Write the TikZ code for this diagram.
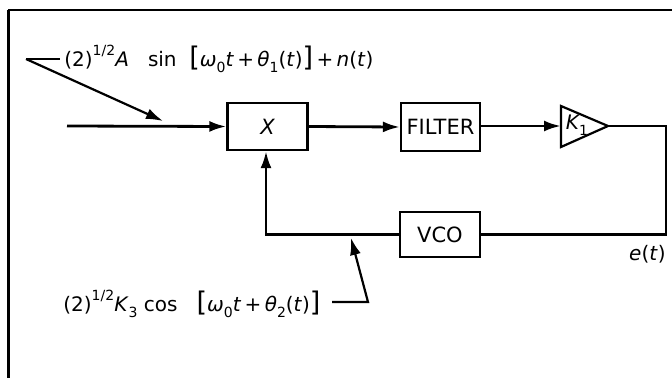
\documentclass[tikz,border=0pt]{standalone}
\usepackage{fontspec}
\setmainfont{DejaVu Sans}
\usetikzlibrary{arrows.meta}
\newcommand{\bigbr}[1]{{\fontsize{27}{27}\selectfont #1}}
\newcommand{\sps}[1]{\raisebox{0.55em}{\fontsize{14}{14}\selectfont #1}}
\newcommand{\sbs}[1]{\raisebox{-0.3em}{\fontsize{14}{14}\selectfont #1}}
\begin{document}
\begin{tikzpicture}[x=1pt,y=-1pt,line width=2.8pt,
  blk/.style={draw,line width=2.3pt,minimum width=80pt,minimum height=47pt,inner sep=0pt,font=\fontsize{21}{23}\selectfont},
  arr/.style={-{Latex[length=17pt,width=11pt]}},
  lbl/.style={font=\fontsize{20}{22}\selectfont,inner sep=0pt},
  thin/.style={line width=2.2pt}]
\useasboundingbox (0,0) rectangle (672,378);
% frame
\coordinate (ftr) at (672,10);
\coordinate (ftl) at (8,10);
\coordinate (fbl) at (8,378);
\draw[line width=1.8pt] (ftr) -- (ftl);
\draw[line width=3pt] (ftl) -- (fbl);
% blocks
\node[blk] (mix) at (267.5,126.5) {\itshape X};
\node[blk,minimum width=79pt,minimum height=48pt] (filt) at (440.5,127) {FILTER};
\node[blk,minimum height=45pt] (vco) at (440,234.5) {VCO};
% amplifier triangle
\coordinate (tl) at (561,106);
\coordinate (bl) at (561,147);
\coordinate (tip) at (608,126);
\coordinate (ain) at (561,126);
\draw[line width=2.2pt,line join=miter] (tl) -- (tip) -- (bl) -- cycle;
\node[font=\fontsize{20}{22}\selectfont,inner sep=0pt] (k1) at (577,125) {\itshape K\sbs{\upshape 1}};
% main path
\coordinate (in) at (67,126);
\draw[arr] (in) -- (mix.west);
\draw[arr] (mix.east) -- (filt.west);
\draw[arr] (filt.east |- ain) -- (ain);
\coordinate (rc) at (666,126);
\coordinate (rb) at (666,234.5);
\draw (tip) -- (rc) -- (rb) -- (vco.east);
\coordinate (lb) at (266,234.5);
\draw[arr] (vco.west) -- (lb) -- (mix.south -| lb);
% e(t)
\node[lbl,anchor=east] (et) at (667,254) {\itshape e\/\upshape(\itshape t\/\upshape)};
% top label
\node[lbl,anchor=west] (toplbl) at (63,59) {(2)\sps{1/2}\textit{A}\ \ \ sin\ \ \bigbr{[}\textit{ω}\sbs{0}\textit{t\/}\,+\,\textit{θ}\sbs{1}(\textit{t\/})\bigbr{]}\,+\,\textit{n}(\textit{t\/})};
\coordinate (o1) at (26,59);
\coordinate (o1e) at (60,59);
\coordinate (o1t) at (163,121);
\draw[thin] (o1) -- (o1e);
\draw[thin,arr] (o1) -- (o1t);
% bottom label
\node[lbl,anchor=west] (botlbl) at (62,304) {(2)\sps{1/2}\textit{K}\sbs{3}\ cos\ \ \ \bigbr{[}\textit{ω}\sbs{0}\textit{t\/}\,+\,\textit{θ}\sbs{2}(\textit{t\/})\bigbr{]}};
\coordinate (b1) at (332,302);
\coordinate (b2) at (368,302);
\coordinate (b3) at (351,238);
\draw[thin,arr] (b1) -- (b2) -- (b3);
\end{tikzpicture}
\end{document}
